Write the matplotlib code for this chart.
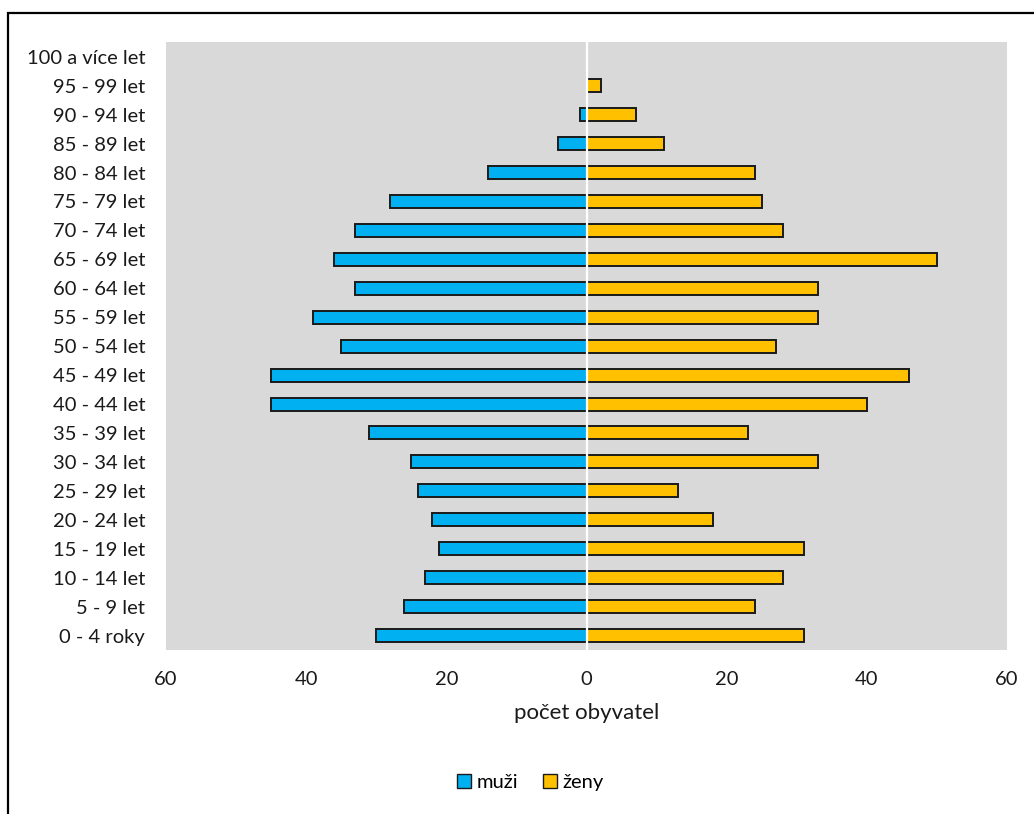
import numpy as np
import matplotlib.pyplot as plt
from matplotlib.patches import Rectangle, Patch
from matplotlib.ticker import FuncFormatter

plt.rcParams['font.family'] = ['Lato', 'DejaVu Sans']

age_groups = ['0 - 4 roky', '5 - 9 let', '10 - 14 let', '15 - 19 let', '20 - 24 let',
              '25 - 29 let', '30 - 34 let', '35 - 39 let', '40 - 44 let', '45 - 49 let',
              '50 - 54 let', '55 - 59 let', '60 - 64 let', '65 - 69 let', '70 - 74 let',
              '75 - 79 let', '80 - 84 let', '85 - 89 let', '90 - 94 let', '95 - 99 let',
              '100 a více let']
men = [30, 26, 23, 21, 22, 24, 25, 31, 45, 45, 35, 39, 33, 36, 33, 28, 14, 4, 1, 0, 0]
women = [31, 24, 28, 31, 18, 13, 33, 23, 40, 46, 27, 33, 33, 50, 28, 25, 24, 11, 7, 2, 0]

blue = '#00b0f0'
yellow = '#ffc000'

fig = plt.figure(figsize=(10.34, 8.14), dpi=100)
ax = fig.add_axes([0.1605, 0.2015, 0.8135, 0.7465])
ax.set_facecolor('#d9d9d9')

y = np.arange(len(age_groups))
men_arr = np.array(men)
women_arr = np.array(women)
mask_m = men_arr > 0
mask_w = women_arr > 0
ax.barh(y[mask_m], -men_arr[mask_m], height=0.45, color=blue, edgecolor='#1a1a1a', linewidth=1.4, zorder=2)
ax.barh(y[mask_w], women_arr[mask_w], height=0.45, color=yellow, edgecolor='#1a1a1a', linewidth=1.4, zorder=2)
ax.axvline(0, color='white', lw=1.6, zorder=3)

ax.set_xlim(-60, 60)
ax.set_ylim(-0.5, 20.5)
ax.set_xticks([-60, -40, -20, 0, 20, 40, 60])
ax.xaxis.set_major_formatter(FuncFormatter(lambda v, p: f'{abs(int(v))}'))
ax.set_yticks(y)
ax.set_yticklabels(age_groups)
ax.tick_params(axis='both', length=0, labelsize=14.5, colors='#1a1a1a')
ax.tick_params(axis='x', pad=15)
ax.tick_params(axis='y', pad=15)
for s in ax.spines.values():
    s.set_visible(False)
ax.set_xlabel('počet obyvatel', fontsize=16, color='#1a1a1a', labelpad=11)

handles = [Patch(facecolor=blue, edgecolor='#1a1a1a', label='muži'),
           Patch(facecolor=yellow, edgecolor='#1a1a1a', label='ženy')]
fig.legend(handles=handles, loc='center', bbox_to_anchor=(0.513, 0.039), ncol=2, frameon=False,
           fontsize=14.5, handlelength=0.7, handleheight=0.7, columnspacing=1.2, handletextpad=0.3)

# outer frame
fig.patches.append(Rectangle((0.0077, -0.1), 1.2, 1.084, transform=fig.transFigure,
                             fill=False, edgecolor='black', linewidth=1.6))

fig.savefig('out.png', dpi=100)
